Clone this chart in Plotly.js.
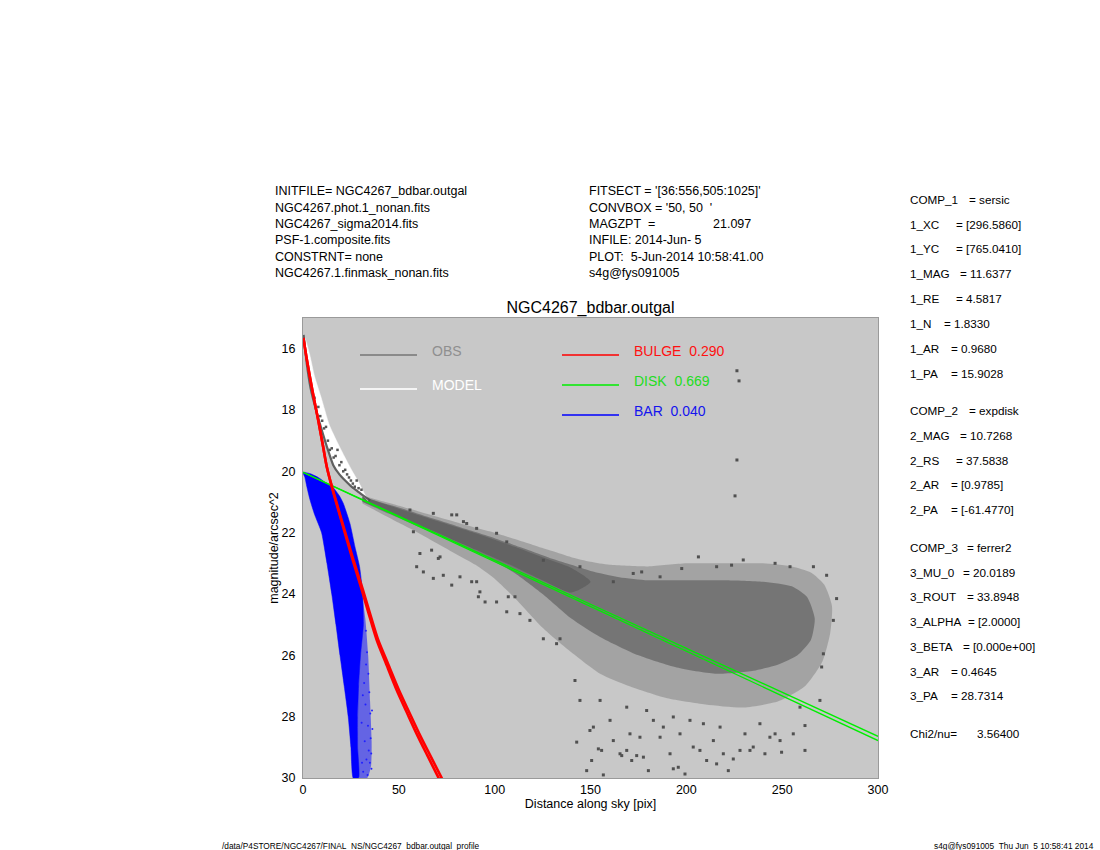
<!DOCTYPE html>
<html>
<head>
<meta charset="utf-8">
<script src="https://cdn.plot.ly/plotly-3.0.1.min.js"></script>
<style>
  html, body { margin: 0; padding: 0; background: #ffffff; }
  #chart { width: 1100px; height: 850px; }
</style>
</head>
<body>
<div id="chart"></div>
<script>
// ---------------- DATA ----------------
// BAR component (ferrer2): dense solid envelope
const barCoreX = [0, 4, 8, 12, 16, 19, 21, 24.5, 27.1, 29.5, 31, 31.5, 30, 29, 28.5, 28.5, 29, 26.2, 25, 23.6, 21.5, 19.3, 17.2, 15, 12.5, 9.7, 6, 3.65, 2, 1, 0];
const barCoreY = [20.03, 20.08, 20.2, 20.38, 20.55, 20.8, 21.04, 21.7, 22.46, 23.1, 23.9, 25, 26, 27, 28, 29, 30, 30, 29, 28, 27, 26, 25, 24, 23, 22, 21.4, 20.93, 20.5, 20.2, 20.03];
// BAR component: sparse dotted outer part
const barTexX = [28.5, 30.5, 32.5, 34, 35, 35.8, 35.5, 33.5, 29.5, 28.5, 28.8, 29.5];
const barTexY = [23.5, 23.9, 24.8, 26, 27.5, 28.8, 29.6, 30, 30, 28, 26, 25];
const barDotX = [32.8, 33.4, 34.1, 34.6, 35.1, 33.9, 32.6, 31.9, 35.3, 34.3, 33.1, 32.2, 30.8, 31.4, 33.7, 34.9, 35.6, 32.9, 31.2, 30.6, 36.2, 36.0, 35.7];
const barDotY = [25.2, 25.9, 26.6, 27.2, 27.9, 28.3, 27.6, 26.9, 28.7, 29.1, 29.4, 28.8, 29.5, 29.8, 29.9, 29.5, 29.2, 26.3, 27.3, 28.2, 28.4, 27.8, 29.7];

// MODEL band (white) in the inner region
const modelBandX = [0.3, 2, 4, 7, 10.5, 15.8, 22, 28.5, 34, 32, 29, 25.3, 21.5, 17.5, 13.8, 9.3, 6, 3.5, 1, 0.3];
const modelBandY = [15.6, 16.5, 17.3, 18.05, 18.8, 19.8, 20.3, 20.65, 20.95, 20.72, 20.35, 19.95, 19.5, 19.0, 18.5, 17.56, 16.9, 16.2, 15.65, 15.6];

// OBS: inner edge of the profile
const obsEdgeX = [0.3, 1, 2, 4, 7, 10.5, 13, 15.8, 19, 22, 25, 28.5, 32, 35];
const obsEdgeY = [15.55, 15.95, 16.5, 17.3, 18.05, 18.8, 19.3, 19.8, 20.1, 20.3, 20.48, 20.65, 20.82, 20.95];
// OBS: points inside the model band
const obsInX = [6, 9, 11, 13, 14, 17, 19, 21, 23, 25, 27, 18, 12, 24, 26, 29, 8, 10, 15, 16, 20, 22, 28, 30.5];
const obsInY = [17.6, 18.2, 18.6, 19.0, 19.3, 19.5, 19.8, 20.0, 20.1, 20.3, 20.5, 19.3, 18.55, 20.2, 20.4, 20.55, 17.9, 18.35, 19.25, 19.55, 19.7, 19.95, 20.3, 20.6];
// OBS: outer envelope of the scatter
const obsOuterX = [31, 40, 50, 60, 70, 80, 90, 100, 110, 120, 130, 140, 150, 160, 180, 200, 220, 240, 255, 265, 272, 276, 275, 271, 262, 248, 230, 210, 190, 170, 155, 140, 125, 110, 100, 90, 80, 70, 60, 50, 40, 31];
const obsOuterY = [20.78, 20.95, 21.12, 21.3, 21.48, 21.66, 21.84, 22.0, 22.2, 22.4, 22.6, 22.8, 22.95, 23.05, 23.1, 23.0, 23.0, 23.0, 23.1, 23.3, 23.7, 24.4, 25.3, 26.2, 27.0, 27.5, 27.7, 27.6, 27.4, 27.0, 26.6, 25.9, 25.1, 24.1, 23.5, 23.05, 22.7, 22.35, 22.0, 21.68, 21.35, 21.05];
// OBS: denser inner envelope
const obsInnerX = [31, 40, 50, 60, 70, 80, 90, 100, 110, 120, 130, 140, 150, 165, 180, 200, 220, 240, 255, 263, 267, 265, 258, 248, 235, 215, 195, 175, 155, 140, 125, 110, 100, 90, 80, 70, 60, 50, 40, 31];
const obsInnerY = [20.82, 21.0, 21.18, 21.38, 21.58, 21.78, 21.98, 22.18, 22.4, 22.62, 22.85, 23.05, 23.25, 23.45, 23.55, 23.55, 23.55, 23.6, 23.75, 24.1, 24.8, 25.5, 26.0, 26.3, 26.5, 26.6, 26.4, 26.0, 25.4, 24.8, 24.0, 23.3, 22.95, 22.65, 22.35, 22.05, 21.8, 21.52, 21.25, 21.0];
// OBS: densest core of the band
const obsCoreX = [31, 50, 70, 90, 110, 125, 140, 150, 140, 125, 110, 90, 70, 50, 31];
const obsCoreY = [20.83, 21.22, 21.62, 22.02, 22.45, 22.8, 23.15, 23.6, 23.95, 23.55, 23.1, 22.55, 22.0, 21.47, 20.98];
// OBS: individual sparse points
const obsSparseX = [142.8, 148.0, 150.6, 154.1, 155.8, 156.7, 161.9, 165.4, 166.3, 168.9, 171.5, 174.1, 177.6, 180.2, 175.8, 170.6, 160.2, 151.5, 149.7, 144.5, 141.9,
  186.3, 191.5, 193.2, 195.8, 199.3, 203.6, 207.1, 210.6, 214.1, 215.8, 219.3, 221.9, 224.5, 228.0, 230.6, 233.2, 234.9, 238.4, 241.0, 243.6, 246.3, 248.9, 249.7,
  255.8, 261.9, 261.9, 259.3, 269.7, 271.5, 270.6, 276.7, 278.4, 273.2, 266.3, 254.1, 246.3, 229.7, 223.6, 215.8, 206.3, 197.6, 186.3, 176.7, 172.3, 161.9, 144.5,
  182.8, 188.0, 196.7, 179.3, 168.9, 155.0, 193.2, 208.9, 201.9, 217.6,
  59.3, 61.0, 67.1, 71.5, 70.6, 62.8, 68.0, 73.2, 77.6, 81.9, 88.0, 90.6, 91.5, 92.3, 95.0, 101.0, 106.3, 107.1, 110.6, 113.2, 118.4, 125.4, 132.3, 134.1,
  77.6, 80.2, 83.7, 85.4, 90.6, 101.0, 68.0, 55.8, 125.4, 57.6, 106.3,
  226.4, 227.5, 226.4, 225.4];
const obsSparseY = [28.83, 29.76, 29.43, 29.05, 29.10, 29.9, 28.78, 29.21, 29.27, 29.10, 29.43, 29.27, 29.32, 29.76, 28.67, 28.56, 28.12, 28.34, 28.45, 27.47, 26.82,
  28.67, 29.21, 29.70, 29.65, 29.87, 28.99, 29.10, 29.43, 28.78, 29.54, 29.21, 29.76, 29.38, 29.10, 28.56, 29.10, 28.99, 28.23, 29.21, 28.67, 28.56, 28.78, 29.16,
  28.56, 29.10, 28.29, 27.69, 27.47, 25.95, 26.38, 24.86, 24.15, 23.39, 23.11, 23.11, 23.0, 22.89, 23.06, 23.11, 22.79, 23.17, 23.44, 23.28, 23.33, 23.6, 23.11,
  28.12, 28.34, 28.56, 27.8, 27.69, 27.47, 28.01, 28.23, 28.12, 28.34,
  23.11, 22.68, 22.57, 22.79, 22.84, 23.28, 23.49, 23.39, 23.71, 23.44, 23.60, 23.60, 24.09, 23.93, 24.26, 24.26, 24.58, 24.09, 24.09, 24.64, 24.86, 25.46, 25.62, 25.46,
  21.42, 21.42, 21.64, 21.70, 21.86, 22.02, 21.37, 21.26, 22.9, 21.97, 22.3,
  16.72, 17.05, 19.63, 20.8];

// BULGE component (sersic): inner and outer edge of the red profile band
const bulgeY = [15.65, 16.35, 17.4, 18.35, 19.2, 19.85, 20.5, 21.45, 22.15, 22.9, 23.85, 24.58, 25.51, 26.22, 27.14, 27.84, 28.56, 29.28, 29.98, 30.1];
const bulgeX = [0.2, 2, 5, 8, 10.5, 12.4, 15, 19.3, 22.5, 26, 30.6, 34, 38.5, 43, 48.9, 54, 59.3, 65, 70.6, 71.5];
const bulgeOuterX = [0.2, 2, 5, 8, 10.5, 12.4, 15.1, 19.5, 22.8, 26.4, 31.2, 34.7, 39.3, 44, 50.1, 55.3, 60.7, 66.5, 72.2, 73.1];

// DISK component (expdisk): two nearly coincident profiles
const diskX = [0, 300];
const diskYa = [20.03, 28.64];
const diskYb = [20.03, 28.78];

// Axis ticks
const xTicks = [0, 50, 100, 150, 200, 250, 300];
const yTicks = [16, 18, 20, 22, 24, 26, 28, 30];

// Legend entries
const legendLeft = [
  {label: 'OBS', line: '#8a8a8a', text: '#8f8f8f'},
  {label: 'MODEL', line: '#f4f4f4', text: '#ffffff'}
];
const legendRight = [
  {label: 'BULGE\u00A0\u00A00.290', line: '#ff0000', text: '#ff1010'},
  {label: 'DISK\u00A0\u00A00.669', line: '#00ee00', text: '#22dd22'},
  {label: 'BAR\u00A0\u00A00.040', line: '#0000ff', text: '#1414ee'}
];

// Header text
const headerLeft = ['INITFILE= NGC4267_bdbar.outgal', 'NGC4267.phot.1_nonan.fits', 'NGC4267_sigma2014.fits',
  'PSF-1.composite.fits', 'CONSTRNT= none', 'NGC4267.1.finmask_nonan.fits'];
const headerMid = ["FITSECT = '[36:556,505:1025]'", "CONVBOX = '50, 50\u00A0\u00A0'", 'MAGZPT\u00A0\u00A0=',
  'INFILE: 2014-Jun- 5', 'PLOT:\u00A0\u00A05-Jun-2014 10:58:41.00', 's4g@fys091005'];
const magzptValue = '21.097';

// Right column parameters: [label, value]
const params = [
  ['COMP_1', '= sersic'], ['1_XC', '= [296.5860]'], ['1_YC', '= [765.0410]'], ['1_MAG', '= 11.6377'],
  ['1_RE', '= 4.5817'], ['1_N', '= 1.8330'], ['1_AR', '= 0.9680'], ['1_PA', '= 15.9028'],
  ['COMP_2', '= expdisk'], ['2_MAG', '= 10.7268'], ['2_RS', '= 37.5838'], ['2_AR', '= [0.9785]'], ['2_PA', '= [-61.4770]'],
  ['COMP_3', '= ferrer2'], ['3_MU_0', '= 20.0189'], ['3_ROUT', '= 33.8948'], ['3_ALPHA', '= [2.0000]'],
  ['3_BETA', '= [0.000e+00]'], ['3_AR', '= 0.4645'], ['3_PA', '= 28.7314'], ['Chi2/nu=', '3.56400']
];

// ---------------- LAYOUT HELPERS ----------------
const L = 303, R = 878, T = 318, B = 778;
function px(x) { return (x - L) / (R - L); }
function py(y) { return (B - y) / (B - T); }
const FONT = 'Liberation Sans, Arial, Helvetica, sans-serif';

const traces = [];
function poly(xs, ys, color) {
  traces.push({x: xs, y: ys, type: 'scatter', mode: 'lines', fill: 'toself', fillcolor: color,
    line: {width: 0, shape: 'spline', smoothing: 0.6}, hoverinfo: 'skip', showlegend: false});
}
// OBS envelopes
poly(obsOuterX, obsOuterY, 'rgba(80,80,80,0.30)');
poly(obsInnerX, obsInnerY, 'rgba(80,80,80,0.55)');
poly(obsCoreX, obsCoreY, 'rgba(86,86,86,0.60)');
// MODEL band
traces.push({x: modelBandX, y: modelBandY, type: 'scatter', mode: 'lines', fill: 'toself',
  fillcolor: '#ffffff', line: {width: 0.5, color: '#ffffff', shape: 'spline', smoothing: 0.6}, hoverinfo: 'skip', showlegend: false});
// OBS edge and points
traces.push({x: obsEdgeX, y: obsEdgeY, type: 'scatter', mode: 'lines',
  line: {width: 2.2, color: 'rgba(80,80,80,0.9)', shape: 'spline', smoothing: 0.6}, hoverinfo: 'skip', showlegend: false});
traces.push({x: obsInX, y: obsInY, type: 'scatter', mode: 'markers',
  marker: {symbol: 'square', size: 2.5, color: '#555555'}, hoverinfo: 'skip', showlegend: false});
traces.push({x: obsSparseX, y: obsSparseY, type: 'scatter', mode: 'markers',
  marker: {symbol: 'square', size: 3, color: '#505050'}, hoverinfo: 'skip', showlegend: false});
// BAR
poly(barTexX, barTexY, 'rgba(0,0,255,0.5)');
traces.push({x: barCoreX, y: barCoreY, type: 'scatter', mode: 'lines', fill: 'toself',
  fillcolor: '#0000ff', line: {width: 0.5, color: '#0000ff', shape: 'spline', smoothing: 0.5}, hoverinfo: 'skip', showlegend: false});
traces.push({x: barDotX, y: barDotY, type: 'scatter', mode: 'markers',
  marker: {symbol: 'circle', size: 2, color: '#2020ff'}, hoverinfo: 'skip', showlegend: false});
// DISK
traces.push({x: diskX, y: diskYa, type: 'scatter', mode: 'lines', line: {width: 1.3, color: '#00ee00'},
  hoverinfo: 'skip', showlegend: false});
traces.push({x: diskX, y: diskYb, type: 'scatter', mode: 'lines', line: {width: 1.3, color: '#00ee00'},
  hoverinfo: 'skip', showlegend: false});
// BULGE
traces.push({x: bulgeOuterX, y: bulgeY, type: 'scatter', mode: 'lines',
  line: {width: 2.6, color: '#ff0000', shape: 'spline', smoothing: 0.8}, hoverinfo: 'skip', showlegend: false});
traces.push({x: bulgeX, y: bulgeY, type: 'scatter', mode: 'lines',
  line: {width: 2.6, color: '#ff0000', shape: 'spline', smoothing: 0.8}, hoverinfo: 'skip', showlegend: false});

const annotations = [];
const shapes = [];
function txt(x, y, text, opts) {
  opts = opts || {};
  annotations.push({
    xref: 'paper', yref: 'paper', x: px(x - (opts.anchor === 'right' ? -2 : 2)), y: py(y), text: text, showarrow: false,
    xanchor: opts.anchor || 'left', yanchor: 'middle',
    font: {family: FONT, size: opts.size || 12.5, color: opts.color || '#000000'}
  });
}

// Header
const headerRows = [191, 207.5, 224, 240, 256.5, 273];
headerLeft.forEach((t, i) => txt(275, headerRows[i], t));
headerMid.forEach((t, i) => txt(589, headerRows[i], t));
txt(713, headerRows[2], magzptValue);

// Right column
const paramRows = [199, 224, 248.5, 273, 298, 323, 348, 373, 410, 435, 460, 484.5, 509, 547, 572, 596.5, 621, 646, 671, 695.5, 733];
const eqX = [969, 956, 956, 960, 956, 944, 951, 951, 969, 960, 956, 951, 951, 967, 963, 967, 968, 963, 951, 951, 977];
params.forEach((p, i) => { txt(910, paramRows[i], p[0], {size: 11.7}); txt(eqX[i], paramRows[i], p[1], {size: 11.7}); });

// Legend
const legRowsL = [355, 389];
legendLeft.forEach((e, i) => {
  shapes.push({type: 'line', xref: 'paper', yref: 'paper', x0: px(360), x1: px(417), y0: py(legRowsL[i]), y1: py(legRowsL[i]),
    line: {color: e.line, width: 2}});
  txt(432, legRowsL[i] - 4, e.label, {size: 14, color: e.text});
});
const legRowsR = [355, 385, 415];
legendRight.forEach((e, i) => {
  shapes.push({type: 'line', xref: 'paper', yref: 'paper', x0: px(562), x1: px(619), y0: py(legRowsR[i]), y1: py(legRowsR[i]),
    line: {color: e.line, width: 1.6}});
  txt(634, legRowsR[i] - 4.5, e.label, {size: 14, color: e.text});
});

// Footer
txt(222, 846, '/data/P4STORE/NGC4267/FINAL_NS/NGC4267_bdbar.outgal_profile', {size: 8.3});
txt(1094, 846, 's4g@fys091005\u00A0\u00A0Thu Jun\u00A0\u00A05 10:58:41 2014', {size: 8.3, anchor: 'right'});

const layout = {
  width: 1100, height: 850,
  margin: {l: L, r: 1100 - R, t: T, b: 850 - B, pad: 0},
  paper_bgcolor: '#ffffff', plot_bgcolor: '#c8c8c8',
  font: {family: FONT, size: 12.5, color: '#000000'},
  showlegend: false,
  title: {text: 'NGC4267_bdbar.outgal', xref: 'paper', x: 0.5, xanchor: 'center',
    yref: 'container', y: 1 - 307 / 850, yanchor: 'middle', font: {family: FONT, size: 16, color: '#000000'}},
  xaxis: {
    range: [0, 300], tickvals: xTicks, ticktext: xTicks.map(String), ticks: '', showgrid: false, zeroline: false,
    showline: true, linecolor: '#9a9a9a', linewidth: 1, mirror: true,
    tickfont: {family: FONT, size: 12.5, color: '#000000'},
    title: {text: 'Distance along sky [pix]', standoff: 2, font: {family: FONT, size: 12.5, color: '#000000'}}
  },
  yaxis: {
    range: [30, 15], tickvals: yTicks, ticktext: yTicks.map(String), ticks: '', showgrid: false, zeroline: false,
    showline: true, linecolor: '#9a9a9a', linewidth: 1, mirror: true, ticklabelstandoff: 4,
    tickfont: {family: FONT, size: 12.5, color: '#000000'},
    title: {text: 'magnitude/arcsec^2', standoff: 0, font: {family: FONT, size: 12.5, color: '#000000'}}
  },
  annotations: annotations,
  shapes: shapes
};

Plotly.newPlot('chart', traces, layout, {staticPlot: true, displayModeBar: false});
</script>
</body>
</html>
